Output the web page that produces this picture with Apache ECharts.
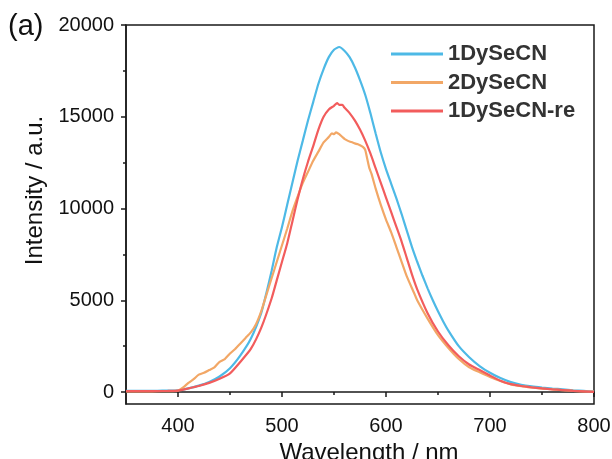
<!DOCTYPE html>
<html><head><meta charset="utf-8">
<script src="https://cdn.jsdelivr.net/npm/echarts@6/dist/echarts.min.js"></script>
<style>html,body{margin:0;padding:0;background:#fff}#c{width:612px;height:459px}</style>
</head><body><div id="c"></div>
<script>
const seriesNames = ['1DySeCN', '2DySeCN', '1DySeCN-re'];
const xTicks = [400, 500, 600, 700, 800];
const xMinor = [450, 550, 650, 750];
const yTicks = [0, 5000, 10000, 15000, 20000];
const yMinor = [2500, 7500, 12500, 17500];

const wl1 = [350,360,370,380,390,400,410,420,430,440,450,460,470,480,485,490,495,500,505,510,515,520,525,530,535,540,545,550,555,560,565,570,575,580,585,590,595,600,605,610,615,620,625,630,635,640,645,650,655,660,670,680,690,700,710,720,730,740,750,760,770,780,790,800];
const v1  = [60,60,60,70,80,100,200,350,550,850,1300,2000,2900,4300,5400,6600,7900,9000,10200,11400,12600,13700,14800,15800,16800,17600,18250,18650,18800,18600,18250,17700,17000,16200,15200,14100,13050,12150,11350,10550,9700,8800,7900,7100,6350,5650,5000,4400,3850,3350,2500,1900,1420,1050,760,540,400,310,245,190,150,100,60,20];

const wl2 = [350,360,370,380,390,400,405,410,415,420,425,430,435,440,445,450,455,460,465,470,475,480,485,490,495,500,505,510,515,520,525,530,535,540,545,548,550,552,555,558,560,563,565,568,570,573,575,578,580,582,584,586,590,595,600,605,610,615,620,627,630,640,650,660,670,680,690,700,710,720,730,740,750,760,770,780,790,800];
const v2  = [40,40,40,45,50,80,250,500,700,950,1050,1200,1350,1650,1800,2100,2350,2650,2950,3250,3700,4400,5300,6200,7100,8000,8900,9850,10650,11400,12000,12600,13100,13600,13900,14100,14050,14150,14050,13900,13800,13700,13650,13600,13550,13500,13450,13350,13200,12700,12200,11900,11100,10200,9400,8700,7900,7100,6300,5400,5000,4000,3100,2400,1800,1350,1080,820,600,420,320,250,190,150,100,70,40,20];

const wl3 = [350,360,370,380,390,400,410,420,430,440,450,460,470,480,490,495,500,505,510,515,520,525,530,535,540,545,550,553,555,558,560,565,570,575,580,585,590,595,600,605,610,615,620,625,630,640,650,660,670,680,690,700,710,720,730,740,750,760,770,780,790,800];
const v3  = [50,50,50,55,65,80,200,330,500,720,1020,1650,2350,3500,5100,6100,7100,8100,9300,10500,11600,12550,13400,14300,15000,15400,15600,15750,15650,15650,15500,15200,14800,14300,13700,13000,12200,11400,10600,9800,9000,8200,7300,6400,5600,4300,3300,2550,1950,1500,1200,900,620,430,330,260,200,150,110,70,40,10];

const colors = ['#4DB9E6', '#F2A766', '#F25C5C'];
const pairs = (xs, ys) => xs.map((x, i) => [x, ys[i]]);
const datas = [pairs(wl1, v1), pairs(wl2, v2), pairs(wl3, v3)];

const font = 'Liberation Sans, Arial';
const axisColor = '#1a1a1a';
const chart = echarts.init(document.getElementById('c'));
chart.setOption({
  animation: false,
  grid: { left: 126, right: 18, top: 25, bottom: 55, containLabel: false, outerBoundsMode: 'none',
          show: true, borderColor: axisColor, borderWidth: 1.5 },
  legend: {
    orient: 'vertical', left: 391, top: 43, padding: 0, itemGap: 6.5, itemWidth: 52, itemHeight: 3,
    icon: 'rect', data: seriesNames,
    textStyle: { fontFamily: font, fontWeight: 'bold', fontSize: 22, color: '#333', lineHeight: 22 }
  },
  graphic: [{ type: 'text', left: 8, top: 12, style: { text: '(a)', fontFamily: font, fontSize: 29, fill: '#111' } }],
  xAxis: [
    { type: 'value', min: 350, max: 800, position: 'bottom',
      name: 'Wavelength / nm', nameLocation: 'middle', nameGap: 31,
      nameTextStyle: { fontFamily: font, fontSize: 24, color: '#111', padding: [0, 0, 0, 18] },
      axisLine: { show: true, lineStyle: { color: axisColor, width: 1.5 } },
      axisTick: { show: true, length: 5, customValues: xTicks, lineStyle: { color: axisColor, width: 1.5 } },
      axisLabel: { customValues: xTicks, margin: 12, fontFamily: font, fontSize: 20, color: '#111', formatter: v => String(v) },
      splitLine: { show: false } },
    { type: 'value', min: 350, max: 800, position: 'bottom',
      axisLine: { show: false },
      axisTick: { show: true, length: 3, customValues: xMinor, lineStyle: { color: axisColor, width: 1.5 } },
      axisLabel: { show: false }, splitLine: { show: false } }
  ],
  yAxis: [
    { type: 'value', min: -650, max: 20000, position: 'left',
      name: 'Intensity / a.u.', nameLocation: 'middle', nameGap: 68, nameRotate: 90,
      nameTextStyle: { fontFamily: font, fontSize: 24, color: '#111', padding: [0, 0, 0, 48] },
      axisLine: { show: true, lineStyle: { color: axisColor, width: 1.5 } },
      axisTick: { show: true, length: 5, customValues: yTicks, lineStyle: { color: axisColor, width: 1.5 } },
      axisLabel: { customValues: yTicks, margin: 12, fontFamily: font, fontSize: 20, color: '#111', formatter: v => String(v) },
      splitLine: { show: false } },
    { type: 'value', min: -650, max: 20000, position: 'left',
      axisLine: { show: false },
      axisTick: { show: true, length: 3, customValues: yMinor, lineStyle: { color: axisColor, width: 1.5 } },
      axisLabel: { show: false }, splitLine: { show: false } }
  ],
  series: seriesNames.map((n, i) => ({
    name: n, type: 'line', xAxisIndex: 0, yAxisIndex: 0, data: datas[i],
    showSymbol: false, symbol: 'none', smooth: 0.2,
    lineStyle: { color: colors[i], width: 2.2 }, itemStyle: { color: colors[i] }
  }))
});
</script></body></html>
